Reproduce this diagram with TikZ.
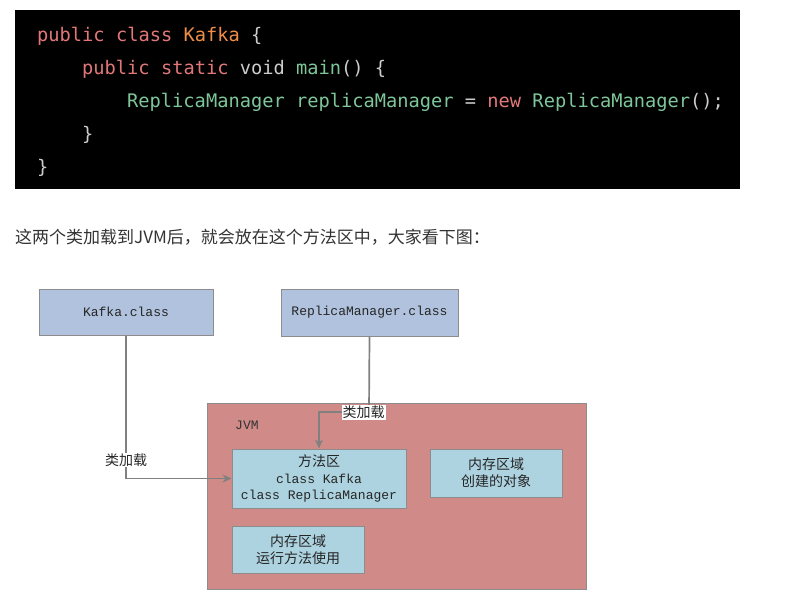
\documentclass[tikz,border=0pt]{standalone}
\usepackage{fontspec}
\setmainfont{Liberation Sans}
\newfontfamily\cjk{Noto Sans CJK SC}
\newfontfamily\codefont{DejaVu Sans Mono}
\newfontfamily\dmono{Liberation Mono}
\usetikzlibrary{arrows.meta}
\definecolor{codebg}{HTML}{000000}
\definecolor{kwred}{HTML}{E2777A}
\definecolor{orng}{HTML}{F08D49}
\definecolor{grn}{HTML}{7EC699}
\definecolor{plain}{HTML}{CCCCCC}
\definecolor{sent}{HTML}{333333}
\definecolor{clsblue}{HTML}{B0C2DD}
\definecolor{jvmred}{HTML}{D08B89}
\definecolor{ltblue}{HTML}{ADD3E0}
\definecolor{edge}{HTML}{8C8C8C}
\definecolor{linec}{HTML}{808080}
\tikzset{
  codeline/.style={anchor=base west, inner sep=0pt, font=\codefont\fontsize{18.7}{22}\selectfont, text=plain},
  clsbox/.style={draw=edge, line width=1pt, fill=clsblue, inner sep=0pt, text=black!85,
     font=\dmono\fontsize{13}{16}\selectfont},
  areabox/.style={draw=edge, line width=1pt, fill=ltblue, inner sep=0pt, text=black!85,
     align=center, font=\fontsize{13}{16.5}\selectfont},
  conn/.style={draw=linec, line width=1.7pt, -{Stealth[length=9pt,width=8pt]}},
  lbl/.style={fill=white, inner sep=1pt, text=black!85, font=\cjk\fontsize{14}{16}\selectfont},
}
\begin{document}
\begin{tikzpicture}[x=1pt,y=-1pt]
\useasboundingbox (0,0) rectangle (785,606);
\fill[white] (0,0) rectangle (785,606);
% code block
\node[fill=codebg, inner sep=0pt, minimum width=725pt, minimum height=179pt, anchor=north west] (codebox) at (15,10) {};
\node[codeline] (c1) at (37,41) {\textcolor{kwred}{public class }\textcolor{orng}{Kafka} \{};
\node[codeline] (c2) at (82,74) {\textcolor{kwred}{public static }void \textcolor{grn}{main}() \{};
\node[codeline] (c3) at (127,107) {\textcolor{grn}{ReplicaManager replicaManager} = \textcolor{kwred}{new} \textcolor{grn}{ReplicaManager}();};
\node[codeline] (c4) at (82,140) {\}};
\node[codeline] (c5) at (37,173) {\}};
% sentence
\node[anchor=base west, inner sep=0pt, text=sent, font=\cjk\fontsize{17}{19}\selectfont] (sentence) at (15,243) {这两个类加载到JVM后，就会放在这个方法区中，大家看下图：};
% diagram
\node[clsbox, minimum width=174pt, minimum height=46pt] (kafka) at (126,312) {Kafka.class};
\node[clsbox, minimum width=177pt, minimum height=47pt] (rep) at (369.5,312.5) {ReplicaManager.class};
\node[draw=edge, line width=1pt, fill=jvmred, minimum width=379pt, minimum height=186pt, inner sep=0pt] (jvm) at (396.5,496) {};
\node[anchor=west, inner sep=0pt, text=black!80, font=\dmono\fontsize{13}{16}\selectfont] (jvmlabel) at (235,425) {JVM};
\node[areabox, minimum width=174pt, minimum height=59pt] (method) at (319,478.5)
  {{\cjk\fontsize{14}{16}\selectfont 方法区}\\{\dmono class Kafka}\\{\dmono class ReplicaManager}};
\node[areabox, minimum width=132pt, minimum height=48pt, font=\cjk\fontsize{14}{17}\selectfont] (heap) at (496,473) {内存区域\\创建的对象};
\node[areabox, minimum width=132pt, minimum height=47pt, font=\cjk\fontsize{14}{17}\selectfont] (stack) at (298,549.5) {内存区域\\运行方法使用};
% connectors
\coordinate (bend2) at (369,412);
\draw[conn] (kafka.south) |- (method.west);
\draw[conn] (rep.south) -- (bend2) -| (method.north);
\node[lbl] (l1) at (126,460) {类加载};
\node[lbl] (l2) at (363.5,412.5) {类加载};
\end{tikzpicture}
\end{document}
